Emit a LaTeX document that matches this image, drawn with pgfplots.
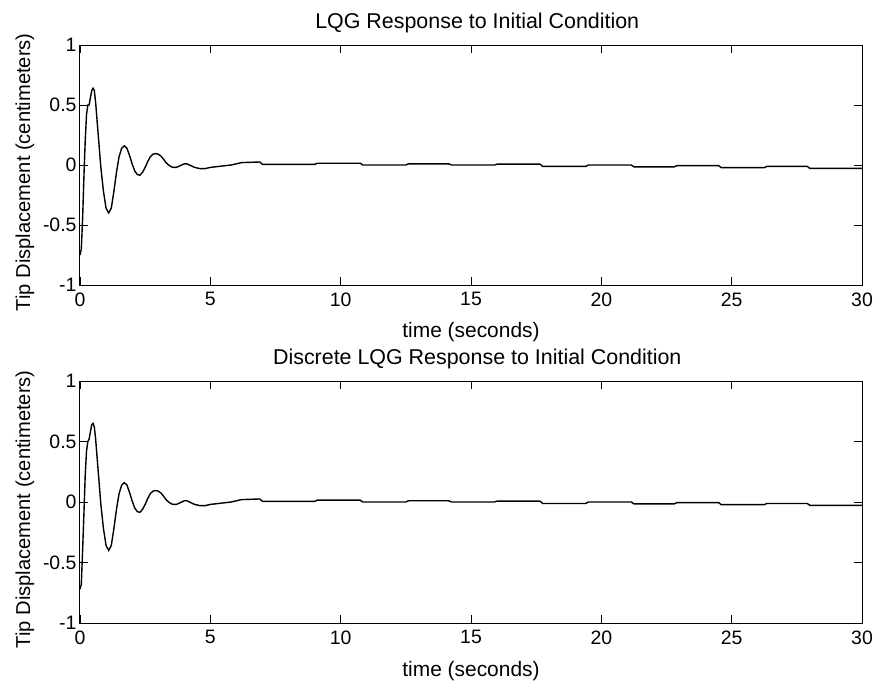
\documentclass[border=0pt]{standalone}
\usepackage{fontspec}
\setmainfont{Liberation Sans}
\newcommand\tk[1]{\hbox{\fontsize{19.5}{19.5}\selectfont #1}}
\usepackage{pgfplots}
\pgfplotsset{compat=1.18}
\begin{document}
\begin{tikzpicture}[x=1bp,y=1bp]
\useasboundingbox (-80bp,45bp) rectangle (803bp,-643bp);
\pgfplotsset{
  every axis/.style={
    scale only axis, width=782bp,
    xmin=0, xmax=30, ymin=-1, ymax=1,
    xtick={0,5,...,30}, ytick={-1,-0.5,0,0.5,1},
    yticklabels={\tk{-1},\tk{-0.5},\tk{0},\tk{0.5},\tk{1}},
    xticklabels={\tk{0},\tk{5},\tk{10},\tk{15},\tk{20},\tk{25},\tk{30}},
    tick align=inside, major tick length=8bp,
    tick style={black, line width=0.8bp},
    axis line style={line width=1bp},
    tick label style={font=\fontsize{19.5}{19.5}\selectfont},
    xticklabel style={yshift=-4bp},
    yticklabel style={xshift=0bp},
    xlabel={time (seconds)},
    ylabel={Tip Displacement (centimeters)},
    xlabel style={font=\fontsize{21}{21}\selectfont, at={(axis description cs:0.5,-0.22)}, anchor=base},
    ylabel style={font=\fontsize{20.2}{20.2}\selectfont, at={(axis description cs:-0.0703,0.47)}, anchor=center, rotate=0},
    title style={font=\fontsize{21.5}{21.5}\selectfont, at={(axis description cs:0.508,1.045)}, anchor=base},
    clip=true,
  }
}
\begin{axis}[at={(0,0)}, anchor=north west, height=240bp, title={LQG Response to Initial Condition}]
\addplot[black, line width=1.4bp] coordinates {
(0,-0.75) (0.05,-0.70) (0.1,-0.45) (0.15,-0.1) (0.2,0.2) (0.25,0.42) (0.3,0.5) (0.35,0.5)
(0.4,0.56) (0.45,0.62) (0.5,0.64) (0.55,0.62) (0.6,0.52) (0.7,0.25) (0.8,-0.02) (0.9,-0.22)
(1.0,-0.36) (1.1,-0.40) (1.2,-0.36) (1.3,-0.22) (1.4,-0.06) (1.5,0.07) (1.6,0.14) (1.7,0.16)
(1.8,0.14) (1.9,0.08) (2.0,0.01) (2.1,-0.05) (2.2,-0.08) (2.3,-0.085) (2.4,-0.06) (2.5,-0.02)
(2.6,0.03) (2.7,0.07) (2.8,0.09) (2.9,0.095) (3.0,0.09) (3.1,0.075) (3.2,0.05) (3.3,0.02)
(3.4,0.0) (3.5,-0.015) (3.6,-0.02) (3.7,-0.02) (3.8,-0.01) (3.9,0.0) (4.0,0.01) (4.1,0.01)
(4.2,0.0) (4.4,-0.02) (4.6,-0.03) (4.8,-0.03) (5.0,-0.02) (5.4,-0.01) (5.8,0.0) (6.2,0.02)
(6.9,0.025) (7.0,0.005) (9.0,0.005) (9.1,0.015) (10.75,0.015) (10.85,0.0) (12.5,0.0) (12.6,0.01)
(14.15,0.01) (14.25,0.0) (15.9,0.0) (16.0,0.007) (17.65,0.007) (17.75,-0.012) (19.4,-0.012)
(19.5,0.0) (21.15,0.0) (21.25,-0.015) (22.8,-0.015) (22.9,-0.005) (24.5,-0.005) (24.6,-0.022)
(26.25,-0.022) (26.35,-0.012) (27.9,-0.012) (28.0,-0.028) (30,-0.028)
};
\end{axis}
\begin{axis}[at={(0,-336bp)}, anchor=north west, height=242bp, title={Discrete LQG Response to Initial Condition}]
\addplot[black, line width=1.4bp] coordinates {
(0,-0.72) (0.05,-0.68) (0.1,-0.40) (0.15,-0.1) (0.2,0.22) (0.25,0.42) (0.3,0.5) (0.35,0.52)
(0.4,0.58) (0.45,0.64) (0.5,0.65) (0.55,0.62) (0.6,0.52) (0.7,0.25) (0.8,-0.02) (0.9,-0.22)
(1.0,-0.36) (1.1,-0.40) (1.2,-0.36) (1.3,-0.22) (1.4,-0.06) (1.5,0.07) (1.6,0.14) (1.7,0.16)
(1.8,0.14) (1.9,0.08) (2.0,0.01) (2.1,-0.05) (2.2,-0.08) (2.3,-0.085) (2.4,-0.06) (2.5,-0.02)
(2.6,0.03) (2.7,0.07) (2.8,0.09) (2.9,0.095) (3.0,0.09) (3.1,0.075) (3.2,0.05) (3.3,0.02)
(3.4,0.0) (3.5,-0.015) (3.6,-0.02) (3.7,-0.02) (3.8,-0.01) (3.9,0.0) (4.0,0.01) (4.1,0.01)
(4.2,0.0) (4.4,-0.02) (4.6,-0.03) (4.8,-0.03) (5.0,-0.02) (5.4,-0.01) (5.8,0.0) (6.2,0.02)
(6.9,0.025) (7.0,0.005) (9.0,0.005) (9.1,0.015) (10.75,0.015) (10.85,0.0) (12.5,0.0) (12.6,0.01)
(14.15,0.01) (14.25,0.0) (15.9,0.0) (16.0,0.007) (17.65,0.007) (17.75,-0.012) (19.4,-0.012)
(19.5,0.0) (21.15,0.0) (21.25,-0.015) (22.8,-0.015) (22.9,-0.005) (24.5,-0.005) (24.6,-0.022)
(26.25,-0.022) (26.35,-0.012) (27.9,-0.012) (28.0,-0.028) (30,-0.028)
};
\end{axis}
\end{tikzpicture}
\end{document}
